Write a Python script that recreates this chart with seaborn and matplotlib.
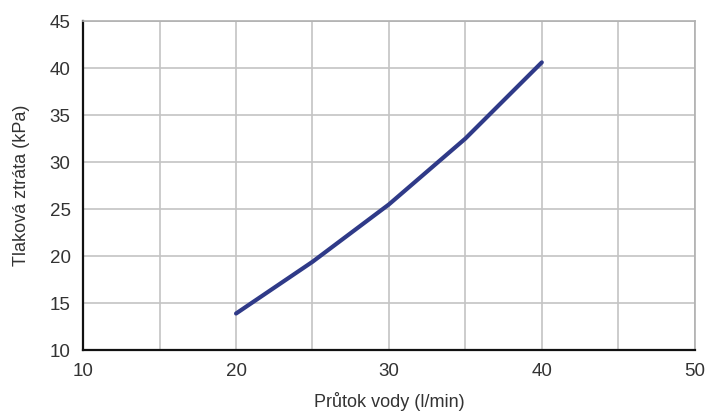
import matplotlib
matplotlib.use("Agg")
from matplotlib import pyplot as plt
import seaborn as sns
import pandas as pd

# ------------------------------------------------
# ----- Data -------------------------------------
# ------------------------------------------------
flow = [20, 25, 30, 35, 40]
pressure_loss = [13.9, 19.4, 25.5, 32.5, 40.6]
x_ticks = [10, 20, 30, 40, 50]
y_ticks = [10, 15, 20, 25, 30, 35, 40, 45]

df = pd.DataFrame({'flow': flow, 'loss': pressure_loss})

sns.set_style('white')
plt.rcParams['font.family'] = ['Liberation Sans', 'DejaVu Sans']

fig = plt.figure(figsize=(7.11, 4.12), dpi=100)
ax = fig.add_axes([0.117, 0.150, 0.860, 0.799])

sns.lineplot(data=df, x='flow', y='loss', ax=ax, color='#2f3a88', linewidth=3.0,
             solid_capstyle='round', solid_joinstyle='round')

ax.set_xlim(10, 50)
ax.set_ylim(10, 45)
ax.set_xticks(x_ticks)
ax.set_xticks([15, 25, 35, 45], minor=True)
ax.set_yticks(y_ticks)
ax.grid(True, which='both', color='#c4c4c4', linewidth=1.2)
ax.set_axisbelow(True)

ax.tick_params(axis='both', which='major', direction='in', length=4, width=1.2,
               colors='#222222', labelsize=13.5, labelcolor='#333333', pad=9)
ax.tick_params(axis='both', which='minor', length=0)

for side in ['left', 'bottom']:
    ax.spines[side].set_color('#111111')
    ax.spines[side].set_linewidth(1.6)
for side in ['top', 'right']:
    ax.spines[side].set_color('#b0b0b0')
    ax.spines[side].set_linewidth(1.2)

ax.set_xlabel('Průtok vody (l/min)', fontsize=13, color='#333333', labelpad=9)
ax.set_ylabel('Tlaková ztráta (kPa)', fontsize=13, color='#333333', labelpad=14)

fig.savefig('out.png', dpi=100)
